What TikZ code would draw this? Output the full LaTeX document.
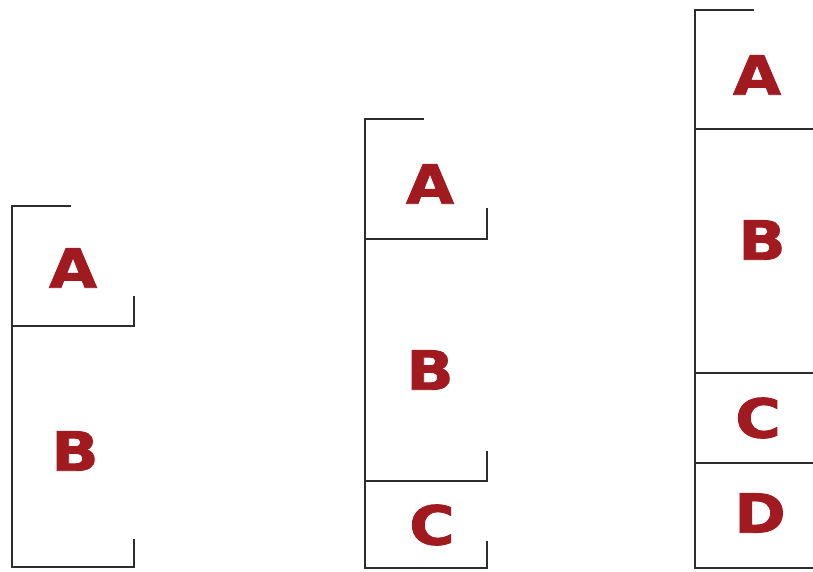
\documentclass[tikz,border=0pt]{standalone}
\usepackage{fontspec}
\setmainfont{DejaVu Sans}
\newfontfamily\heavyfont[FakeBold=1.6,FakeStretch=1.15]{DejaVu Sans Bold}
\definecolor{lettred}{RGB}{160,26,32}
\definecolor{linegray}{RGB}{45,45,45}
\begin{document}
\begin{tikzpicture}[x=1pt,y=-1pt,
  brk/.style={draw=linegray,line width=1.8pt,line cap=rect},
  lett/.style={text=lettred,font=\heavyfont\fontsize{54}{54}\selectfont,inner sep=0pt,anchor=center}]
\useasboundingbox (0,0) rectangle (813,571);
% group 1
\draw[brk] (70,206) -- (12,206) -- (12,567) -- (134,567) -- (134,540);
\draw[brk] (12,326) -- (134,326) -- (134,297);
\node[lett] (g1a) at (73,268) {A};
\node[lett] (g1b) at (75,451) {B};
% group 2
\draw[brk] (423,119) -- (365,119) -- (365,568) -- (487,568) -- (487,542);
\draw[brk] (365,239) -- (487,239) -- (487,209);
\draw[brk] (365,481) -- (487,481) -- (487,452);
\node[lett] (g2a) at (430,184) {A};
\node[lett] (g2b) at (430,370) {B};
\node[lett] (g2c) at (432,525) {C};
% group 3
\draw[brk] (753,10) -- (695,10) -- (695,568) -- (820,568);
\draw[brk] (695,129) -- (820,129);
\draw[brk] (695,373) -- (820,373);
\draw[brk] (695,463) -- (820,463);
\node[lett] (g3a) at (757,75) {A};
\node[lett] (g3b) at (762,240) {B};
\node[lett] (g3c) at (758,418) {C};
\node[lett] (g3d) at (760,513) {D};
\end{tikzpicture}
\end{document}
